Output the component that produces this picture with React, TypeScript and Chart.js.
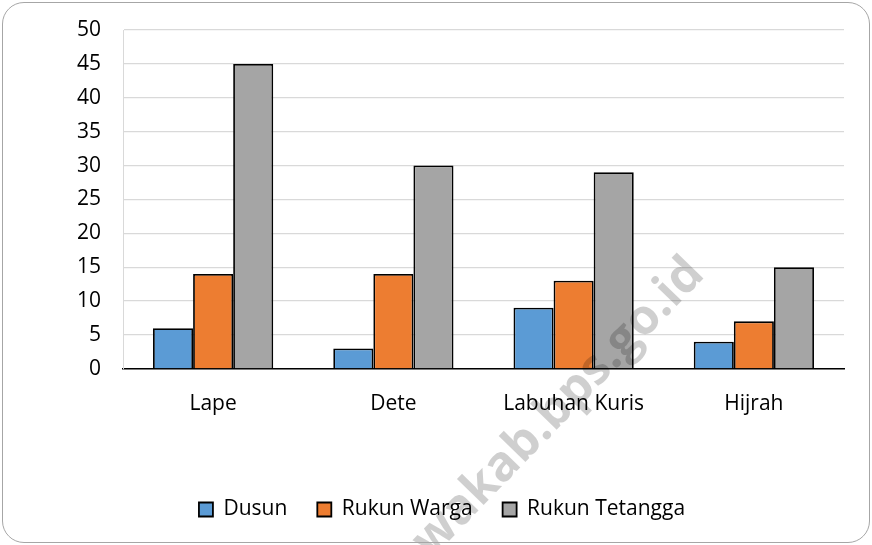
import React, { useEffect, useRef } from "react";
import { Chart, registerables } from "chart.js";

Chart.register(...registerables);

const categories = ["Lape", "Dete", "Labuhan Kuris", "Hijrah"];
const dusun = [6, 3, 9, 4];
const rukunWarga = [14, 14, 13, 7];
const rukunTetangga = [45, 30, 29, 15];
const watermark = "sumbawakab.bps.go.id";

const FONT = "'Open Sans', sans-serif";

const watermarkPlugin = {
  id: "watermark",
  afterDraw(chart: any) {
    const ctx = chart.ctx;
    ctx.save();
    ctx.translate(696, 266);
    ctx.rotate(-Math.PI * 0.255);
    ctx.font = `bold 49px ${FONT}`;
    ctx.fillStyle = "rgba(0,0,0,0.19)";
    ctx.textAlign = "right";
    ctx.textBaseline = "middle";
    ctx.fillText(watermark, 0, 0);
    ctx.restore();
  },
};

export default function App() {
  const ref = useRef<HTMLCanvasElement>(null);
  useEffect(() => {
    document.body.style.margin = "0";
    const chart = new Chart(ref.current!, {
      type: "bar",
      data: {
        labels: categories,
        datasets: [
          { label: "Dusun", data: dusun, backgroundColor: "#5b9bd5", borderColor: "#000", borderWidth: 1.8 },
          { label: "Rukun Warga", data: rukunWarga, backgroundColor: "#ed7d31", borderColor: "#000", borderWidth: 1.8 },
          { label: "Rukun Tetangga", data: rukunTetangga, backgroundColor: "#a5a5a5", borderColor: "#000", borderWidth: 1.8 },
        ],
      },
      options: {
        animation: false,
        responsive: true,
        maintainAspectRatio: false,
        layout: { padding: { top: 30, right: 28, left: 40, bottom: 15 } },
        datasets: { bar: { categoryPercentage: 0.667, barPercentage: 1 } },
        scales: {
          x: {
            grid: { display: false },
            border: { color: "#000", width: 1.5 },
            ticks: { color: "#000", font: { family: FONT, size: 21 }, padding: 15 },
            afterFit(scale: any) {
              scale.height += 37;
            },
          },
          y: {
            min: 0,
            max: 50,
            ticks: { stepSize: 5, color: "#000", font: { family: FONT, size: 21 }, padding: 22 },
            grid: { color: "#d9d9d9", lineWidth: 1.2, drawTicks: false },
            border: { color: "#d9d9d9" },
            afterFit(scale: any) {
              scale.width = 83;
              scale.paddingTop = 0;
              scale.paddingBottom = 0;
            },
          },
        },
        plugins: {
          legend: {
            position: "bottom",
            labels: {
              color: "#000",
              font: { family: FONT, size: 21 },
              boxWidth: 14,
              boxHeight: 14,
              padding: 30,
            },
          },
          tooltip: { enabled: false },
        },
      },
      plugins: [watermarkPlugin],
    });
    return () => chart.destroy();
  }, []);
  return (
    <div style={{ position: "relative", width: 872, height: 545, background: "#fff" }}>
      <div style={{ position: "absolute", inset: 0, width: 872, height: 545 }}>
        <canvas ref={ref} />
      </div>
      <div
        style={{
          position: "absolute",
          left: 2,
          top: 2,
          width: 866,
          height: 539,
          border: "1.5px solid #a6a6a6",
          borderRadius: 22,
          pointerEvents: "none",
        }}
      />
    </div>
  );
}
